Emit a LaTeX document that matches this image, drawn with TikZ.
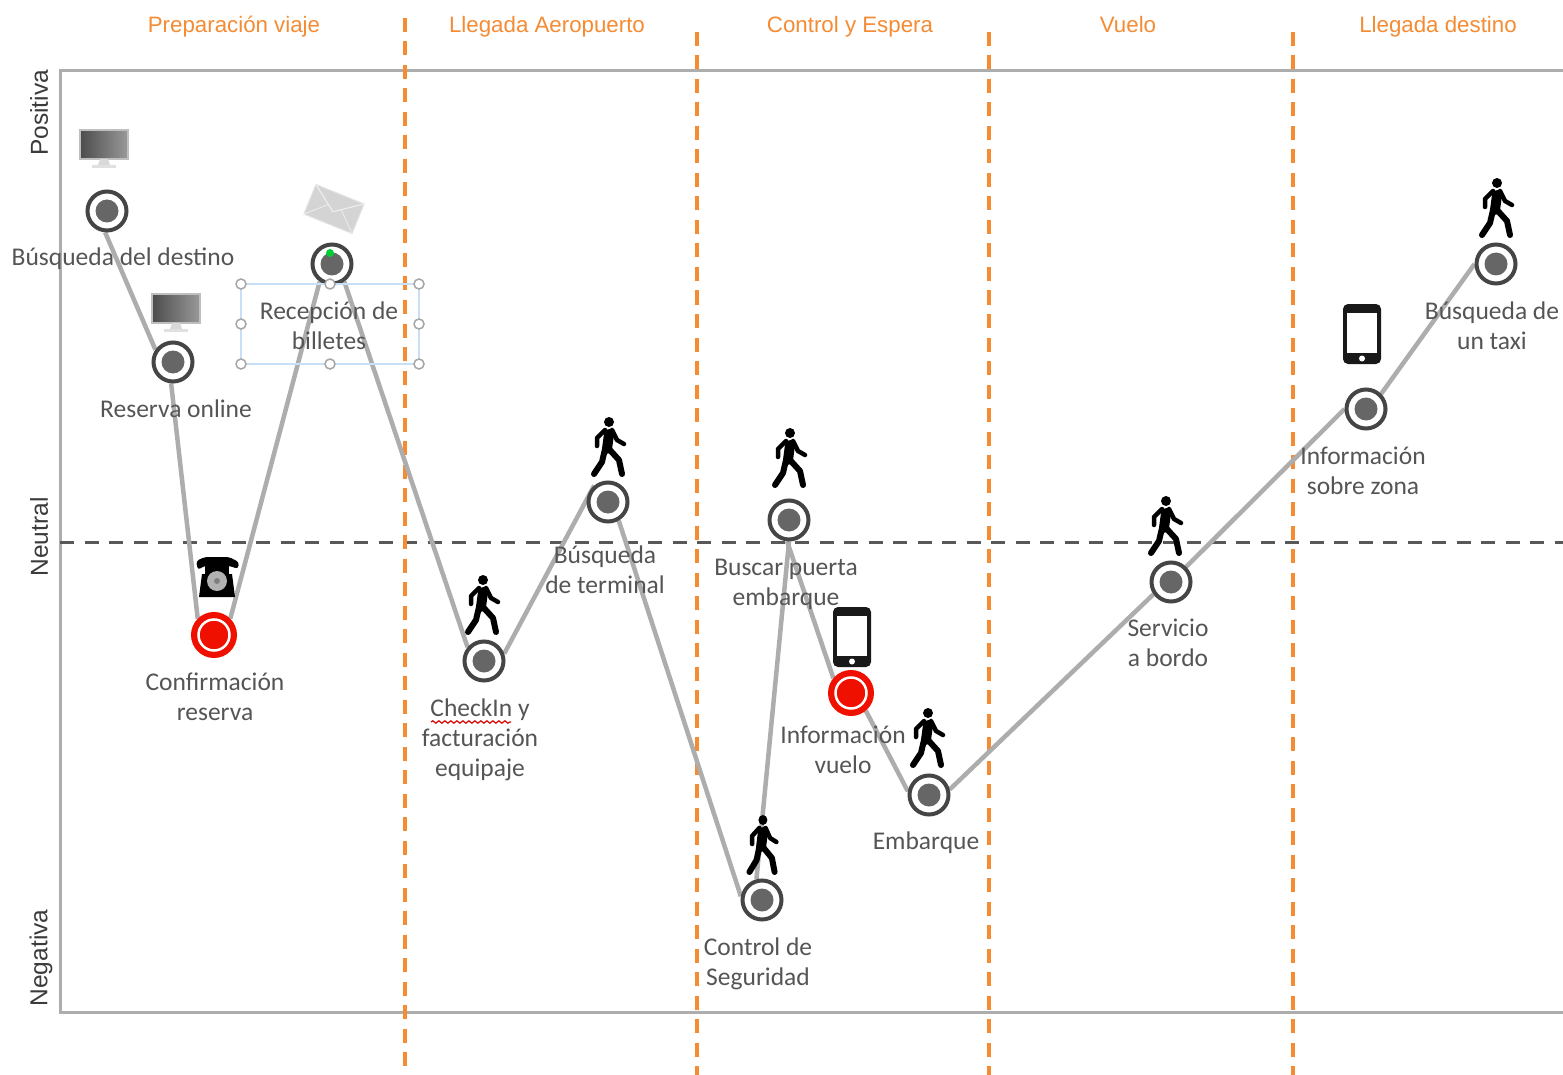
\documentclass[tikz,border=0pt]{standalone}
\usepackage{fontspec}
\setmainfont{Carlito}
\newfontfamily\hdrfont{Liberation Sans}
\usetikzlibrary{backgrounds,decorations.pathmorphing}
\definecolor{ringgray}{HTML}{454545}
\definecolor{dotgray}{HTML}{666666}
\definecolor{linegray}{HTML}{ADADAD}
\definecolor{stagecol}{HTML}{F58B33}
\definecolor{labelcol}{HTML}{555555}
\definecolor{selcol}{HTML}{C8E0F7}
\definecolor{redcol}{HTML}{F01000}
\tikzset{
  touch/.style={circle,minimum size=39,inner sep=0,draw=ringgray,line width=4,fill=white,
    path picture={\fill[dotgray] (path picture bounding box.center) circle (11.5);}},
  touchred/.style={circle,minimum size=41,inner sep=0,draw=redcol,line width=5,fill=redcol,
    path picture={\draw[white,line width=2.5] (path picture bounding box.center) circle (15.5);}},
  link/.style={draw=linegray,line width=4.5},
  lbl/.style={text=labelcol,align=center,inner sep=0,font=\fontsize{25.5}{30}\selectfont},
  stage/.style={text=stagecol,inner sep=0,font=\hdrfont\fontsize{22.3}{24}\selectfont},
  axislbl/.style={text=labelcol!70!black,inner sep=0,rotate=90,font=\hdrfont\fontsize{24.5}{26}\selectfont},
  stagesep/.style={draw=stagecol,line width=3.5,dash pattern=on 14 off 9.5},
  handle/.style={circle,minimum size=10,inner sep=0,draw=gray!70,line width=1.5,fill=white},
  pics/walker/.style={code={
    \fill[black] (1,-25) circle (5);
    \draw[black,line width=10,line cap=round] (1,-13) -- (-1,2);
    \draw[black,line width=4.5,line cap=round,line join=round] (-3,-17) -- (-11,-9) -- (-11,-1);
    \draw[black,line width=4.5,line cap=round,line join=round] (4,-17) -- (9,-7) -- (16,-3);
    \draw[black,line width=6,line cap=round,line join=round] (-3,2) -- (-6,15) -- (-14,27);
    \draw[black,line width=6,line cap=round,line join=round] (1,2) -- (11,13) -- (14,27);
  }},
  pics/monitor/.style={code={
    \shade[left color=black!70,right color=black!40,draw=black!25,line width=1.5] (-24,-17) rectangle (24,12);
    \fill[black!15] (-4,12) -- (4,12) -- (6,18) -- (-6,18) -- cycle;
    \fill[black!12] (-12,18) rectangle (12,21);
  }},
  pics/smartphone/.style={code={
    \fill[black!90,rounded corners=5] (-19,-30) rectangle (19,30);
    \fill[white] (-15,-21) rectangle (15,19);
    \fill[white] (0,24.5) circle (3);
  }},
  pics/deskphone/.style={code={
    \fill[black] (-15,-4) -- (15,-4) -- (18,19) -- (-18,19) -- cycle;
    \fill[black,rounded corners=3] (-21,-17) -- (-12,-21) -- (12,-21) -- (22,-16) -- (21,-9) -- (13,-12) -- (-13,-12) -- (-19,-8) -- cycle;
    \fill[black] (-12,-14) rectangle (12,-2);
    \fill[black!30] (0,3) circle (10);
    \fill[black!50] (0,3) circle (3);
  }},
  pics/envelope/.style={code={
    \fill[black!17,draw=black!10,line width=1] (-26,-16) rectangle (26,16);
    \draw[black!7,line width=1.2] (-26,-16) -- (0,3) -- (26,-16);
    \draw[black!7,line width=0.8] (-26,16) -- (-7,-2) (26,16) -- (7,-2);
  }}
}
\begin{document}
\begin{tikzpicture}[x=1pt,y=-1pt]
\useasboundingbox (0,0) rectangle (1563,1075);
% touch points
\node[touch] (n1) at (107,211) {};
\node[touch] (n2) at (173,362) {};
\node[touchred] (n3) at (214,635) {};
\node[touch] (n4) at (332,264) {};
\node[touch] (n5) at (484,661) {};
\node[touch] (n6) at (608,502) {};
\node[touch] (n7) at (762,900) {};
\node[touch] (n8) at (789,520) {};
\node[touchred] (n9) at (851,693) {};
\node[touch] (n10) at (929,795) {};
\node[touch] (n11) at (1171,582) {};
\node[touch] (n12) at (1366,409) {};
\node[touch] (n13) at (1496,264) {};
\begin{scope}[on background layer]
  \fill[white] (0,0) rectangle (1563,1075);
  \draw[draw=linegray,line width=3] (1563,71) -- (60,71) -- (60,1012) -- (1563,1012);
  \draw[draw=ringgray!90,line width=3,dash pattern=on 14 off 10.5] (60,542) -- (1563,542);
  \draw[stagesep] (405,18) -- (405,1085);
  \draw[stagesep] (697,32) -- (697,1085);
  \draw[stagesep] (989,32) -- (989,1085);
  \draw[stagesep] (1293,32) -- (1293,1085);
  \draw[link] (n1.265) -- (n2.145);
  \draw[link] (n2.265) -- (n3.135);
  \draw[link] (n3.45) -- (n4.235);
  \draw[link] (n4.305) -- (n5.140);
  \draw[link] (n5.20) -- (n6.130);
  \draw[link] (n6.300) -- (n7.170);
  \draw[link] (n7.105) -- (n8.270);
  \draw[link] (n8.265) -- (n9.140);
  \draw[link] (n9.310) -- (n10.170);
  \draw[link] (n10.15) -- (n11.215);
  \draw[link] (n11.45) -- (n12.180);
  \draw[link] (n12.45) -- (n13.180);
\end{scope}
% stage headers
\node[stage] (s1) at (234,27) {Preparación viaje};
\node[stage] (s2) at (547,27) {Llegada Aeropuerto};
\node[stage] (s3) at (850,27) {Control y Espera};
\node[stage] (s4) at (1128,25) {Vuelo};
\node[stage] (s5) at (1438,27) {Llegada destino};
% axis labels
\node[axislbl] (a1) at (39,113) {Positiva};
\node[axislbl] (a2) at (39,537) {Neutral};
\node[axislbl] (a3) at (41,958) {Negativa};
% icons
\pic at (104,147) {monitor};
\pic at (176,311) {monitor};
\pic at (217,578) {deskphone};
\pic[rotate=-22] at (334,209) {envelope};
\pic at (482,605) {walker};
\pic at (608,447) {walker};
\pic at (789,458) {walker};
\pic[xscale=0.9] at (762,845) {walker};
\pic at (927,738) {walker};
\pic at (1165,526) {walker};
\pic at (1496,208) {walker};
\pic at (852,637) {smartphone};
\pic at (1362,334) {smartphone};
% selection frame
\draw[draw=selcol,line width=2] (241,284) rectangle (419,364);
\foreach \hn/\hx/\hy in {h1/241/284,h2/330/284,h3/419/284,h4/241/324,h5/419/324,h6/241/364,h7/330/364,h8/419/364}
  \node[handle] (\hn) at (\hx,\hy) {};
\fill[green!60!teal] (330,253) circle (4);
% labels
\node[lbl] (l1) at (123,259) {Búsqueda del destino};
\node[lbl] (l2) at (176,409) {Reserva online};
\node[lbl] (l3) at (329,326) {Recepción de\\billetes};
\node[lbl] (l4) at (215,697) {Confirmación\\reserva};
\node[lbl] (l5) at (480,740) {CheckIn y\\facturación\\equipaje};
\node[lbl] (l6) at (605,570) {Búsqueda\\de terminal};
\node[lbl] (l7) at (786,584) {Buscar puerta\\embarque};
\node[lbl] (l8) at (843,750) {Información\\vuelo};
\node[lbl] (l9) at (926,843) {Embarque};
\node[lbl] (l10) at (758,964) {Control de\\Seguridad};
\node[lbl] (l11) at (1168,643) {Servicio\\a bordo};
\node[lbl] (l12) at (1363,471) {Información\\sobre zona};
\node[lbl] (l13) at (1492,326) {Búsqueda de\\un taxi};
\draw[red!85!black,line width=1.2,decorate,decoration={snake,amplitude=1.2,segment length=6}] (431,722) -- (511,722);
\end{tikzpicture}
\end{document}
